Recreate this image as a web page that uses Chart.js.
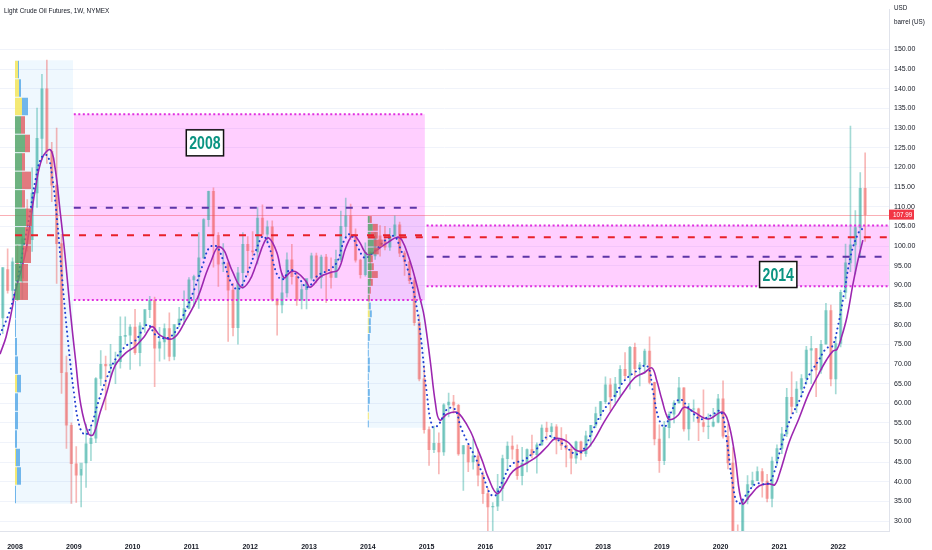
<!DOCTYPE html>
<html>
<head>
<meta charset="utf-8">
<script src="https://cdn.jsdelivr.net/npm/chart.js@4.4.0/dist/chart.umd.min.js"></script>
<style>
  html, body { margin: 0; padding: 0; background: #fff; }
  #wrap { width: 932px; height: 550px; }
</style>
</head>
<body>
<div id="wrap"><canvas id="chart" width="932" height="550"></canvas></div>
<script>
// monthly candles [open, high, low, close], first one is Oct 2007
const firstYear = 2007;
const firstMonth = 9;
const candleOHLC = [
  [81.7, 94.5, 77.7, 94.5], [94.0, 99.3, 88.0, 88.7], [88.7, 97.0, 86.0, 96.0],
  // 2008
  [96.0, 100.1, 86.1, 91.8], [91.8, 103.0, 86.5, 101.8], [101.8, 111.8, 98.7, 101.6], [101.6, 119.9, 98.6, 113.5],
  [113.5, 135.1, 109.8, 127.4], [127.4, 143.7, 122.0, 140.0], [140.0, 147.3, 121.0, 124.1], [124.1, 126.4, 111.3, 115.5],
  [115.5, 130.0, 90.5, 100.6], [100.6, 103.0, 62.5, 67.8], [67.8, 72.0, 48.5, 54.4], [54.4, 55.0, 34.5, 44.6],
  // 2009
  [44.6, 49.0, 34.8, 41.7], [41.7, 43.2, 33.6, 44.8], [44.8, 54.7, 38.6, 49.7], [49.7, 54.0, 45.4, 51.1],
  [51.1, 66.5, 50.0, 66.3], [66.3, 73.4, 64.5, 69.9], [69.9, 72.0, 58.3, 69.5], [69.5, 75.0, 66.7, 69.9],
  [69.9, 73.0, 65.0, 70.6], [70.6, 82.0, 68.9, 77.0], [77.0, 82.0, 75.0, 77.3], [77.3, 80.0, 68.6, 79.4],
  // 2010
  [79.4, 83.9, 72.4, 72.9], [72.9, 80.5, 69.5, 79.7], [79.7, 83.8, 78.0, 83.8], [83.8, 87.2, 81.8, 86.2],
  [86.2, 87.0, 64.2, 74.0], [74.0, 79.3, 70.7, 75.6], [75.6, 80.2, 71.2, 79.0], [79.0, 83.0, 70.8, 71.9],
  [71.9, 80.0, 71.0, 80.0], [80.0, 84.4, 79.5, 81.4], [81.4, 88.6, 80.0, 84.1], [84.1, 92.0, 84.0, 91.4],
  // 2011
  [91.4, 92.6, 84.6, 92.2], [92.2, 103.4, 84.1, 97.0], [97.0, 107.0, 96.8, 106.7], [106.7, 114.0, 105.0, 113.9],
  [113.9, 114.8, 94.6, 102.7], [102.7, 103.4, 89.7, 95.4], [95.4, 100.6, 93.5, 95.7], [95.7, 96.0, 75.7, 88.8],
  [88.8, 90.5, 77.1, 79.2], [79.2, 94.6, 75.0, 93.2], [93.2, 103.4, 89.2, 100.4], [100.4, 102.4, 92.5, 98.8],
  // 2012
  [98.8, 103.7, 97.5, 98.5], [98.5, 109.8, 95.4, 107.1], [107.1, 110.5, 102.3, 103.0], [103.0, 106.4, 100.7, 104.9],
  [104.9, 106.4, 86.0, 86.5], [86.5, 86.6, 77.3, 85.0], [85.0, 92.9, 83.0, 88.1], [88.1, 98.3, 87.0, 96.5],
  [96.5, 100.4, 90.3, 92.2], [92.2, 93.3, 84.9, 86.2], [86.2, 90.3, 84.0, 88.9], [88.9, 91.5, 84.0, 91.8],
  // 2013
  [91.8, 98.2, 91.3, 97.5], [97.5, 98.2, 90.6, 92.0], [92.0, 97.7, 89.3, 97.2], [97.2, 97.9, 85.6, 93.5],
  [93.5, 97.0, 89.3, 92.0], [92.0, 99.0, 92.0, 96.6], [96.6, 108.9, 96.0, 105.0], [105.0, 112.2, 102.0, 107.7],
  [107.7, 110.7, 101.6, 102.3], [102.3, 104.4, 95.9, 96.4], [96.4, 96.7, 91.8, 92.7], [92.7, 100.8, 92.3, 98.4],
  // 2014
  [98.4, 98.6, 91.2, 97.5], [97.5, 103.4, 96.6, 102.6], [102.6, 105.2, 97.4, 101.6], [101.6, 105.0, 99.0, 99.7],
  [99.7, 104.5, 98.9, 102.7], [102.7, 107.7, 102.3, 105.4], [105.4, 106.1, 97.3, 98.2], [98.2, 98.7, 92.5, 96.0],
  [96.0, 96.2, 90.4, 91.2], [91.2, 92.0, 79.8, 80.5], [80.5, 82.5, 65.7, 66.2], [66.2, 69.5, 52.4, 53.3],
  // 2015
  [53.3, 54.0, 44.2, 48.2], [48.2, 54.2, 47.4, 49.8], [49.8, 52.5, 42.0, 47.6], [47.6, 59.9, 46.7, 59.6],
  [59.6, 62.6, 56.5, 60.3], [60.3, 62.0, 57.5, 59.5], [59.5, 59.7, 46.7, 47.1], [47.1, 49.3, 37.8, 49.2],
  [49.2, 49.3, 42.6, 45.1], [45.1, 50.9, 43.2, 46.6], [46.6, 48.4, 39.0, 41.7], [41.7, 42.6, 34.5, 37.0],
  // 2016
  [37.0, 38.4, 26.2, 33.6], [33.6, 34.7, 26.1, 33.8], [33.8, 41.9, 32.7, 38.3], [38.3, 46.8, 35.2, 45.9],
  [45.9, 50.2, 43.0, 49.1], [49.1, 51.7, 45.8, 48.3], [48.3, 49.4, 40.6, 41.6], [41.6, 48.8, 39.2, 44.7],
  [44.7, 48.4, 42.5, 48.2], [48.2, 51.9, 46.1, 46.9], [46.9, 49.9, 42.2, 49.4], [49.4, 54.5, 49.3, 53.7],
  // 2017
  [53.7, 55.2, 50.7, 52.8], [52.8, 54.9, 51.2, 54.0], [54.0, 54.6, 47.1, 50.6], [50.6, 53.8, 48.2, 49.3],
  [49.3, 52.0, 43.8, 48.3], [48.3, 48.9, 42.0, 46.0], [46.0, 50.4, 44.7, 50.2], [50.2, 50.4, 45.6, 47.2],
  [47.2, 52.9, 46.5, 51.7], [51.7, 54.4, 49.1, 54.4], [54.4, 59.0, 53.8, 57.4], [57.4, 60.5, 55.8, 60.4],
  // 2018
  [60.4, 66.7, 59.9, 64.7], [64.7, 66.3, 58.1, 61.6], [61.6, 66.6, 60.0, 64.9], [64.9, 69.6, 62.0, 68.6],
  [68.6, 72.9, 66.2, 67.0], [67.0, 74.5, 63.6, 74.2], [74.2, 75.3, 67.0, 68.8], [68.8, 70.4, 64.4, 69.8],
  [69.8, 73.8, 67.5, 73.3], [73.3, 76.9, 64.9, 65.3], [65.3, 65.4, 49.4, 50.9], [50.9, 54.5, 42.4, 45.4],
  // 2019
  [45.4, 55.4, 44.4, 53.8], [53.8, 57.8, 51.2, 57.2], [57.2, 60.7, 55.0, 60.1], [60.1, 66.6, 60.0, 63.9],
  [63.9, 64.0, 52.9, 53.5], [53.5, 60.0, 50.6, 58.5], [58.5, 60.9, 55.4, 58.6], [58.6, 58.8, 50.5, 55.1],
  [55.1, 63.4, 52.7, 54.1], [54.1, 57.3, 51.0, 54.2], [54.2, 58.7, 54.0, 55.2], [55.2, 62.3, 55.0, 61.1],
  // 2020
  [61.1, 65.7, 51.1, 51.6], [51.6, 54.7, 43.3, 44.8], [44.8, 48.7, 19.3, 20.5], [20.5, 29.1, -40.0, 18.8],
  [18.8, 35.6, 17.3, 35.5], [35.5, 41.6, 34.4, 39.3], [39.3, 42.5, 38.7, 40.3], [40.3, 43.8, 40.3, 42.6],
  [42.6, 43.4, 36.1, 40.2], [40.2, 41.9, 34.9, 35.8], [35.8, 46.3, 33.6, 45.3], [45.3, 49.4, 44.2, 48.5],
  // 2021
  [48.5, 53.9, 47.2, 52.2], [52.2, 63.8, 51.5, 61.5], [61.5, 68.0, 57.3, 59.2], [59.2, 65.5, 57.6, 63.6],
  [63.6, 67.3, 61.6, 66.3], [66.3, 74.5, 64.8, 73.5], [73.5, 77.0, 65.0, 73.9], [73.9, 74.0, 61.7, 68.5],
  [68.5, 76.0, 67.6, 75.0], [75.0, 85.4, 75.0, 83.6], [83.6, 85.0, 64.4, 66.2], [66.2, 76.9, 62.4, 75.2],
  // 2022
  [75.2, 88.8, 74.3, 88.2], [88.2, 100.5, 86.6, 95.7], [95.7, 130.5, 93.5, 100.3], [100.3, 109.0, 92.9, 104.7],
  [104.7, 118.7, 97.2, 114.7], [114.7, 123.7, 101.2, 108.0]
];
const lastPrice = 107.99;

// moving averages [year, price]
const slowMaPoints = [
  [2007.745, 72.5], [2007.85, 77], [2007.95, 84], [2008.0, 88], [2008.17, 97.75], [2008.25, 105], [2008.34, 114],
  [2008.46, 122.25], [2008.6, 124.5], [2008.68, 120], [2008.77, 108.5], [2008.85, 97.75], [2008.94, 83.5],
  [2009.03, 71], [2009.12, 59.5], [2009.25, 52.25], [2009.33, 52], [2009.45, 57.75], [2009.56, 62.75],
  [2009.7, 69.5], [2009.88, 72.75], [2010.05, 74.5], [2010.2, 77], [2010.33, 79.5], [2010.47, 77.25],
  [2010.69, 76.5], [2010.9, 81], [2011.11, 87], [2011.25, 93], [2011.33, 96], [2011.45, 99.75], [2011.55, 99],
  [2011.62, 96.5], [2011.7, 93.5], [2011.85, 89.5], [2011.98, 91], [2012.1, 95.25], [2012.24, 101],
  [2012.32, 102], [2012.45, 98.5], [2012.57, 92], [2012.7, 93.5], [2012.8, 93.25], [2012.95, 91],
  [2013.02, 89.5], [2013.2, 92.25], [2013.37, 93.25], [2013.5, 94], [2013.63, 99.75], [2013.75, 102.75],
  [2013.86, 101], [2013.95, 98.5], [2014.03, 97.75], [2014.2, 99.5], [2014.35, 101], [2014.5, 102.25],
  [2014.58, 101.5], [2014.7, 97], [2014.8, 92], [2014.9, 86], [2014.96, 82], [2015.06, 71], [2015.15, 60],
  [2015.22, 55.75], [2015.35, 57.25], [2015.5, 57.75], [2015.6, 56.5], [2015.75, 52.75], [2015.85, 49],
  [2015.95, 45.25], [2016.05, 41], [2016.2, 37], [2016.33, 39.5], [2016.47, 42.75], [2016.7, 44.75],
  [2016.88, 46.5], [2017.05, 49], [2017.19, 51], [2017.39, 50.25], [2017.52, 48.25], [2017.6, 47.75],
  [2017.72, 48.25], [2017.85, 50.75], [2018.02, 55.25], [2018.2, 59.5], [2018.37, 63.25], [2018.54, 66.5],
  [2018.7, 67.75], [2018.83, 69], [2018.91, 66], [2019.0, 61], [2019.11, 56], [2019.19, 56], [2019.28, 57],
  [2019.38, 59], [2019.55, 57.75], [2019.79, 56], [2020.03, 57.75], [2020.13, 55.25], [2020.24, 47],
  [2020.37, 34.5], [2020.5, 36.5], [2020.66, 39], [2020.83, 39.5], [2020.92, 39.25], [2021.0, 42],
  [2021.17, 50.25], [2021.33, 56], [2021.5, 62.5], [2021.67, 67.5], [2021.8, 71], [2021.91, 73.25],
  [2021.98, 73.75], [2022.05, 76.5], [2022.15, 82], [2022.25, 90.25], [2022.33, 96], [2022.42, 101.5]
];
const fastMaPoints = [
  [2007.745, 77.5], [2007.9, 83], [2008.0, 88.5], [2008.15, 100], [2008.25, 108], [2008.35, 117],
  [2008.45, 122.5], [2008.55, 123], [2008.63, 118], [2008.72, 106], [2008.8, 92], [2008.9, 76], [2009.0, 63],
  [2009.1, 54], [2009.2, 52], [2009.3, 54.5], [2009.42, 60.5], [2009.55, 66], [2009.7, 71], [2009.88, 74.5],
  [2010.05, 76], [2010.25, 80], [2010.42, 77], [2010.65, 77], [2010.85, 82], [2011.05, 89], [2011.2, 95.5],
  [2011.3, 99.5], [2011.42, 100], [2011.55, 96], [2011.68, 90.5], [2011.8, 89], [2011.95, 93], [2012.1, 99],
  [2012.22, 102.5], [2012.32, 100], [2012.45, 93], [2012.55, 91.5], [2012.68, 94], [2012.82, 92],
  [2012.97, 89.5], [2013.15, 92.5], [2013.35, 94], [2013.48, 96], [2013.6, 101.5], [2013.7, 103],
  [2013.82, 100], [2013.95, 97], [2014.1, 98.5], [2014.3, 101.5], [2014.45, 102.5], [2014.55, 99.5],
  [2014.68, 94], [2014.8, 87], [2014.9, 77], [2015.0, 63], [2015.1, 54], [2015.2, 54.5], [2015.35, 58.5],
  [2015.48, 58.5], [2015.58, 54], [2015.7, 50], [2015.82, 46.5], [2015.95, 42], [2016.08, 37],
  [2016.17, 36.5], [2016.3, 40.5], [2016.45, 44.5], [2016.65, 45.5], [2016.85, 48], [2017.05, 51.5],
  [2017.2, 51], [2017.4, 48.5], [2017.55, 47], [2017.68, 48.5], [2017.82, 53], [2018.0, 58], [2018.18, 61.5],
  [2018.35, 65.5], [2018.55, 68], [2018.75, 69.5], [2018.85, 63], [2018.95, 56], [2019.05, 54],
  [2019.15, 57.5], [2019.3, 61], [2019.45, 59], [2019.65, 56], [2019.85, 57], [2020.0, 58], [2020.1, 51],
  [2020.2, 40], [2020.3, 34.5], [2020.45, 37], [2020.6, 39.5], [2020.8, 39.5], [2020.9, 42], [2021.05, 50],
  [2021.2, 56.5], [2021.35, 61], [2021.5, 67], [2021.65, 70.5], [2021.8, 74], [2021.9, 74.5], [2022.0, 80],
  [2022.1, 88], [2022.22, 98], [2022.35, 103.5], [2022.42, 104.5]
];

// drawings, in [year from, year to, price low, price high]
const profileRanges = [[2008.0, 2008.986, 34.45, 147.25], [2014.0, 2014.97, 53.75, 107.75]];
const zoneRanges = [[2009.0, 2014.97, 86.25, 133.5], [2015.0, 2022.87, 89.75, 105.25]];
// [year from, year to, price]
const pocLevels = [[2008.0, 2014.97, 102.75], [2014.0, 2022.87, 102.25]];
const midLevels = [[2009.0, 2014.97, 109.75], [2015.0, 2022.87, 97.25]];
const zoneLabels = ['2008', '2014'];
const zoneLabelAt = [[2011.23, 126.25], [2020.98, 92.75]];

// volume profiles: rows from the top of the range down, [first part, second part]
const profileRowHeight = [4.7, 2.0];
const profileValueRows = [[3, 13], [0, 11]];
const profileRows = [
  [[3, 1], [4, 2], [7, 6], [6, 4], [10, 5], [7, 3], [7, 9], [7, 3], [11, 6], [10, 6], [8, 8], [7, 6], [5, 8],
   [0, 1], [0, 1], [0, 2], [0, 3], [2, 4], [0, 3], [0, 3], [0, 2], [1, 4], [2, 4], [0, 1]],
  [[2, 2], [5, 5], [3, 7], [6, 9], [6, 5], [3, 2], [4, 2], [4, 6], [3, 2], [2, 1], [1, 1],
   [1, 2], [2, 2], [1, 2], [1, 2], [0, 2], [0, 1], [0, 1], [0, 2], [0, 2], [0, 1], [0, 1], [0, 2], [0, 2],
   [0, 1], [1, 0], [0, 1]]
];
const profileYearsPerUnit = 1 / 58.8;

const sans = 'Arial, "Liberation Sans", sans-serif';
const upColor = 'rgba(38,166,154,0.42)';
const downColor = 'rgba(239,83,80,0.42)';

const candleX = candleOHLC.map((c, i) => firstYear + (firstMonth + i + 0.5) / 12);
const candleColors = candleOHLC.map(c => (c[3] >= c[0] ? upColor : downColor));

// text squeezed sideways, the picture uses a narrow face
function narrowText(ctx, text, x, y, squeeze) {
  ctx.save();
  ctx.translate(x, y);
  ctx.scale(squeeze, 1);
  ctx.fillText(text, 0, 0);
  ctx.restore();
}

const drawingsPlugin = {
  id: 'drawings',
  beforeDatasetsDraw(chart) {
    const { ctx, chartArea, scales: { x, y } } = chart;
    ctx.save();
    ctx.beginPath();
    ctx.rect(chartArea.left, chartArea.top, chartArea.width, chartArea.height);
    ctx.clip();
    profileRanges.forEach(r => {
      ctx.fillStyle = 'rgba(33,150,243,0.07)';
      ctx.fillRect(x.getPixelForValue(r[0]), y.getPixelForValue(r[3]),
        x.getPixelForValue(r[1]) - x.getPixelForValue(r[0]), y.getPixelForValue(r[2]) - y.getPixelForValue(r[3]));
    });
    zoneRanges.forEach(r => {
      ctx.fillStyle = 'rgba(255,0,255,0.19)';
      ctx.fillRect(x.getPixelForValue(r[0]), y.getPixelForValue(r[3]),
        x.getPixelForValue(r[1]) - x.getPixelForValue(r[0]), y.getPixelForValue(r[2]) - y.getPixelForValue(r[3]));
    });
    // last price line
    const py = Math.round(y.getPixelForValue(lastPrice)) + 0.5;
    ctx.strokeStyle = 'rgba(242,54,69,0.4)';
    ctx.lineWidth = 1;
    ctx.beginPath();
    ctx.moveTo(chartArea.left, py);
    ctx.lineTo(chartArea.right, py);
    ctx.stroke();
    ctx.restore();
  },
  afterDatasetsDraw(chart) {
    const { ctx, chartArea, scales: { x, y } } = chart;
    ctx.save();
    ctx.beginPath();
    ctx.rect(chartArea.left, chartArea.top, chartArea.width, chartArea.height);
    ctx.clip();

    // volume profiles
    profileRanges.forEach((r, p) => {
      const x0 = x.getPixelForValue(r[0]);
      profileRows[p].forEach((row, i) => {
        const top = y.getPixelForValue(r[3] - i * profileRowHeight[p]);
        const bot = y.getPixelForValue(r[3] - (i + 1) * profileRowHeight[p]);
        const inValue = i >= profileValueRows[p][0] && i < profileValueRows[p][1];
        const w1 = x.getPixelForValue(r[0] + row[0] * profileYearsPerUnit) - x0;
        const w2 = x.getPixelForValue(r[0] + (row[0] + row[1]) * profileYearsPerUnit) - x0;
        ctx.fillStyle = inValue ? 'rgba(76,160,96,0.8)' : 'rgba(245,230,90,0.85)';
        ctx.fillRect(x0, top + 0.5, w1, bot - top - 1);
        ctx.fillStyle = inValue ? 'rgba(222,90,95,0.8)' : 'rgba(80,165,230,0.8)';
        ctx.fillRect(x0 + w1, top + 0.5, w2 - w1, bot - top - 1);
      });
    });

    // dotted zone borders
    ctx.strokeStyle = '#df2fdf';
    ctx.lineWidth = 2;
    ctx.setLineDash([2, 2.5]);
    zoneRanges.forEach(r => {
      [r[2], r[3]].forEach(v => {
        const yy = y.getPixelForValue(v);
        ctx.beginPath();
        ctx.moveTo(x.getPixelForValue(r[0]), yy);
        ctx.lineTo(x.getPixelForValue(r[1]), yy);
        ctx.stroke();
      });
    });

    // dashed levels
    ctx.setLineDash([7, 9]);
    const level = (l, color) => {
      const yy = y.getPixelForValue(l[2]);
      ctx.strokeStyle = color;
      ctx.beginPath();
      ctx.moveTo(x.getPixelForValue(l[0]), yy);
      ctx.lineTo(x.getPixelForValue(l[1]), yy);
      ctx.stroke();
    };
    midLevels.forEach(l => level(l, '#5e35a8'));
    pocLevels.forEach(l => level(l, '#e8202a'));
    ctx.setLineDash([]);

    // zone labels
    ctx.font = 'bold 19px ' + sans;
    ctx.textAlign = 'center';
    ctx.textBaseline = 'middle';
    zoneLabels.forEach((t, i) => {
      const cx = x.getPixelForValue(zoneLabelAt[i][0]);
      const cy = y.getPixelForValue(zoneLabelAt[i][1]);
      const w = ctx.measureText(t).width * 0.74 + 6;
      ctx.fillStyle = '#ffffff';
      ctx.fillRect(cx - w / 2, cy - 13, w, 26);
      ctx.strokeStyle = '#111111';
      ctx.lineWidth = 1.5;
      ctx.strokeRect(cx - w / 2, cy - 13, w, 26);
      ctx.fillStyle = '#0b9482';
      narrowText(ctx, t, cx, cy + 1, 0.74);
    });
    ctx.restore();
  },
  afterDraw(chart) {
    const { ctx, chartArea, scales: { y } } = chart;
    ctx.save();
    ctx.fillStyle = '#131722';
    ctx.textBaseline = 'middle';
    ctx.textAlign = 'left';
    ctx.font = '8px ' + sans;
    narrowText(ctx, 'Light Crude Oil Futures, 1W, NYMEX', 4, 11, 0.8);
    ctx.font = '7px ' + sans;
    narrowText(ctx, 'USD', chartArea.right + 5, 8, 0.9);
    narrowText(ctx, 'barrel (US)', chartArea.right + 5, 22, 0.9);
    // last price tag
    const py = y.getPixelForValue(lastPrice);
    ctx.fillStyle = '#f23645';
    ctx.fillRect(chartArea.right, py - 5, 25, 10);
    ctx.fillStyle = '#ffffff';
    ctx.font = '7px ' + sans;
    narrowText(ctx, lastPrice.toFixed(2), chartArea.right + 4, py + 0.5, 0.9);
    ctx.restore();
  }
};

new Chart(document.getElementById('chart'), {
  type: 'bar',
  data: {
    datasets: [
      {
        type: 'line',
        data: fastMaPoints.map(p => ({ x: p[0], y: p[1] })),
        borderColor: '#1f3fd1',
        borderWidth: 2,
        borderDash: [0.1, 4.6],
        borderCapStyle: 'round',
        pointRadius: 0,
        tension: 0.4,
        order: 0
      },
      {
        type: 'line',
        data: slowMaPoints.map(p => ({ x: p[0], y: p[1] })),
        borderColor: '#9c27b0',
        borderWidth: 1.6,
        pointRadius: 0,
        tension: 0.4,
        order: 1
      },
      {
        data: candleOHLC.map((c, i) => ({ x: candleX[i], y: [Math.min(c[0], c[3]), Math.max(c[0], c[3])] })),
        backgroundColor: candleColors,
        barThickness: 2.6,
        grouped: false,
        order: 2
      },
      {
        data: candleOHLC.map((c, i) => ({ x: candleX[i], y: [c[2], c[1]] })),
        backgroundColor: candleColors,
        barThickness: 1,
        grouped: false,
        order: 3
      }
    ]
  },
  options: {
    responsive: false,
    devicePixelRatio: 1,
    animation: false,
    layout: { padding: 0 },
    plugins: { legend: { display: false }, tooltip: { enabled: false } },
    scales: {
      x: {
        type: 'linear',
        min: 2007.745,
        max: 2022.864,
        offset: false,
        grid: { display: false },
        border: { color: '#e0e3eb' },
        ticks: {
          stepSize: 1,
          includeBounds: false,
          autoSkip: false,
          maxRotation: 0,
          padding: 4,
          color: '#131722',
          font: { family: sans, size: 7, weight: 'bold' },
          callback: v => String(v)
        },
        afterFit: s => { s.height = 19; }
      },
      y: {
        position: 'right',
        min: 27.5,
        max: 160.25,
        grid: { color: '#f0f3fa', drawTicks: false },
        border: { color: '#e0e3eb' },
        ticks: {
          stepSize: 5,
          includeBounds: false,
          padding: 5,
          color: '#131722',
          font: { family: sans, size: 7 },
          callback: v => v.toFixed(2)
        },
        afterBuildTicks: s => { s.ticks = s.ticks.filter(t => t.value >= 30 && t.value <= 150); },
        afterFit: s => { s.width = 43; }
      }
    }
  },
  plugins: [drawingsPlugin]
});
</script>
</body>
</html>
